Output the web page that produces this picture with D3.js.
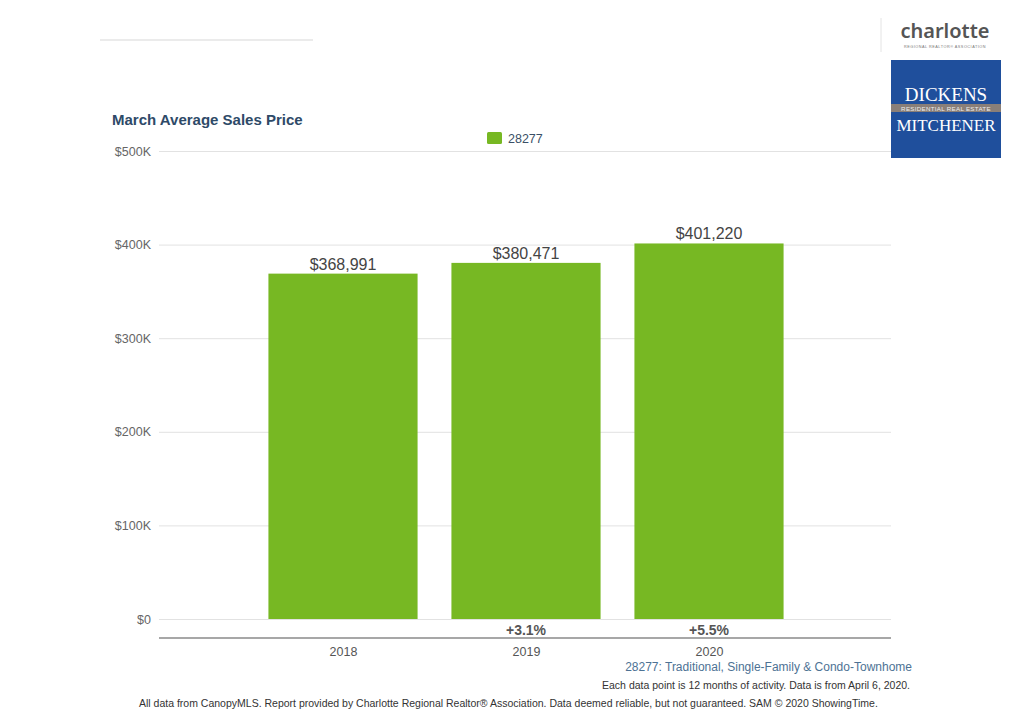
<!DOCTYPE html>
<html>
<head>
<meta charset="utf-8">
<script src="https://cdn.jsdelivr.net/npm/d3@7"></script>
<style>
  body { margin: 0; background: #fff; }
  svg { display: block; font-family: "Liberation Sans", Arial, sans-serif; }
</style>
</head>
<body>
<div id="chart"></div>
<script>
// chart data
const years = ["2018", "2019", "2020"];
const prices = [368991, 380471, 401220];
const changes = [null, "+3.1%", "+5.5%"];
const yTicks = [0, 100000, 200000, 300000, 400000, 500000];
const seriesName = "28277";

const W = 1024, H = 713;
const plot = { left: 159, right: 891, top: 151, bottom: 619 };

const svg = d3.select("#chart").append("svg")
    .attr("width", W)
    .attr("height", H);

// top-left rule
svg.append("line")
    .attr("x1", 100).attr("x2", 313)
    .attr("y1", 40).attr("y2", 40)
    .attr("stroke", "#d8d8d8")
    .attr("stroke-width", 1.2);

// scales
const xScale = d3.scalePoint(years, [plot.left + 1, plot.right + 1]).padding(1);
const yScale = d3.scaleLinear([0, 500000], [plot.bottom, plot.top]);
const barWidth = xScale.step() * 0.815;

// y grid + labels
const yAxis = svg.append("g")
    .attr("transform", `translate(${plot.left},0)`)
    .call(d3.axisLeft(yScale)
        .tickValues(yTicks)
        .tickSize(-(plot.right - plot.left))
        .tickPadding(8)
        .tickFormat(d => d === 0 ? "$0" : `$${d / 1000}K`));
yAxis.select(".domain").remove();
yAxis.selectAll(".tick line").attr("stroke", "#e2e2e2").attr("stroke-width", 1);
yAxis.selectAll(".tick text")
    .attr("fill", "#666")
    .attr("font-size", 12.5)
    .attr("font-family", "Liberation Sans, Arial, sans-serif");

// bars
svg.append("g").selectAll("rect")
    .data(prices)
    .join("rect")
    .attr("x", (d, i) => xScale(years[i]) - barWidth / 2)
    .attr("width", barWidth)
    .attr("y", d => yScale(d))
    .attr("height", d => yScale(0) - yScale(d))
    .attr("fill", "#77b823");

// value labels
svg.append("g").selectAll("text")
    .data(prices)
    .join("text")
    .attr("x", (d, i) => xScale(years[i]))
    .attr("y", d => yScale(d) - 4)
    .attr("text-anchor", "middle")
    .attr("font-size", 16)
    .attr("fill", "#444")
    .text(d => "$" + d3.format(",")(d));

// change labels
svg.append("g").selectAll("text")
    .data(changes)
    .join("text")
    .attr("x", (d, i) => xScale(years[i]))
    .attr("y", 635)
    .attr("text-anchor", "middle")
    .attr("font-size", 14)
    .attr("font-weight", "bold")
    .attr("fill", "#555")
    .text(d => d || "");

// x axis
const xAxis = svg.append("g")
    .attr("transform", "translate(0,638)")
    .call(d3.axisBottom(xScale).tickSize(0).tickPadding(9));
xAxis.select(".domain")
    .attr("stroke", "#8a8a8a")
    .attr("stroke-width", 1.5)
    .attr("d", `M${plot.left},0H${plot.right}`);
xAxis.selectAll(".tick text")
    .attr("fill", "#555")
    .attr("font-size", 12.5)
    .attr("font-family", "Liberation Sans, Arial, sans-serif");

// title
svg.append("text")
    .attr("x", 112).attr("y", 125)
    .attr("font-size", 15)
    .attr("font-weight", "bold")
    .attr("fill", "#2e4a68")
    .text("March Average Sales Price");

// legend
svg.append("rect")
    .attr("x", 487).attr("y", 132)
    .attr("width", 15).attr("height", 12)
    .attr("rx", 1.5)
    .attr("fill", "#77b823");
svg.append("text")
    .attr("x", 508).attr("y", 143)
    .attr("font-size", 12.5)
    .attr("fill", "#3a4f66")
    .text(seriesName);

// footer notes
svg.append("text")
    .attr("x", 912).attr("y", 671)
    .attr("text-anchor", "end")
    .attr("font-size", 12)
    .attr("fill", "#4d7294")
    .text("28277: Traditional, Single-Family & Condo-Townhome");
svg.append("text")
    .attr("x", 910).attr("y", 689)
    .attr("text-anchor", "end")
    .attr("font-size", 10.5)
    .attr("fill", "#333")
    .text("Each data point is 12 months of activity. Data is from April 6, 2020.");
svg.append("text")
    .attr("x", 139).attr("y", 707)
    .attr("font-size", 10.5)
    .attr("fill", "#333")
    .text("All data from CanopyMLS. Report provided by Charlotte Regional Realtor\u00ae Association. Data deemed reliable, but not guaranteed. SAM \u00a9 2020 ShowingTime.");

// charlotte logo
svg.append("line")
    .attr("x1", 881).attr("x2", 881)
    .attr("y1", 18).attr("y2", 52)
    .attr("stroke", "#e4e4e4");
svg.append("text")
    .attr("x", 945).attr("y", 38)
    .attr("text-anchor", "middle")
    .attr("font-size", 20)
    .attr("font-weight", 600)
    .attr("font-family", "Noto Sans, sans-serif")
    .attr("fill", "#555")
    .text("charlotte");
svg.append("text")
    .attr("x", 945).attr("y", 47.5)
    .attr("text-anchor", "middle")
    .attr("font-size", 3.8)
    .attr("fill", "#777")
    .attr("letter-spacing", 0.5)
    .text("REGIONAL REALTOR\u00ae ASSOCIATION");

// Dickens Mitchener box
const logo = svg.append("g").attr("transform", "translate(891,60)");
logo.append("rect")
    .attr("width", 110).attr("height", 98)
    .attr("fill", "#1f4f9c");
logo.append("rect")
    .attr("y", 44).attr("width", 110).attr("height", 8)
    .attr("fill", "#8a7f78");
logo.append("text")
    .attr("x", 55).attr("y", 41)
    .attr("text-anchor", "middle")
    .attr("font-family", "Liberation Serif, serif")
    .attr("font-size", 19)
    .attr("fill", "#fff")
    .text("DICKENS");
logo.append("text")
    .attr("x", 55).attr("y", 50.5)
    .attr("text-anchor", "middle")
    .attr("font-size", 6.2)
    .attr("fill", "#eee")
    .attr("letter-spacing", 0.3)
    .text("RESIDENTIAL REAL ESTATE");
logo.append("text")
    .attr("x", 55).attr("y", 70.5)
    .attr("text-anchor", "middle")
    .attr("font-family", "Liberation Serif, serif")
    .attr("font-size", 17)
    .attr("fill", "#fff")
    .text("MITCHENER");
</script>
</body>
</html>
